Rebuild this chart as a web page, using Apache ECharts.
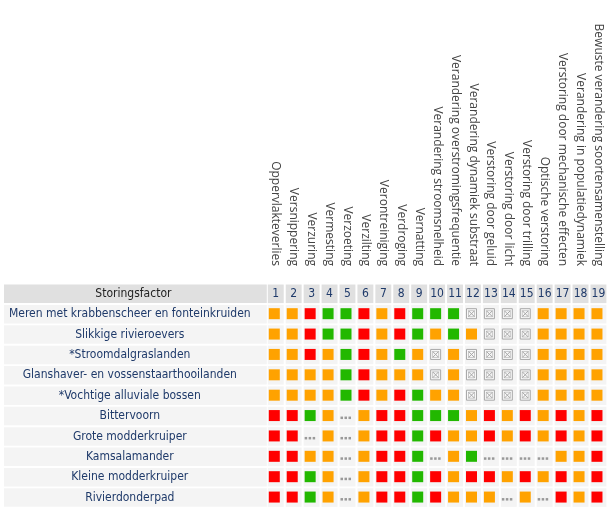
<!DOCTYPE html>
<html>
<head>
<meta charset="utf-8">
<script src="https://cdn.jsdelivr.net/npm/echarts@6/dist/echarts.min.js"></script>
<style>
  html, body { margin: 0; padding: 0; background: #fff; }
  #main { width: 611px; height: 512px; }
</style>
</head>
<body>
<div id="main"></div>
<script>
// storingsfactoren (kolommen)
var factoren = [
  'Oppervlakteverlies', 'Versnippering', 'Verzuring', 'Vermesting', 'Verzoeting',
  'Verzilting', 'Verontreiniging', 'Verdroging', 'Vernatting', 'Verandering stroomsnelheid',
  'Verandering overstromingsfrequentie', 'Verandering dynamiek substraat', 'Verstoring door geluid',
  'Verstoring door licht', 'Verstoring door trilling', 'Optische verstoring',
  'Verstoring door mechanische effecten', 'Verandering in populatiedynamiek',
  'Bewuste verandering soortensamenstelling'
]
var nummers = ['1','2','3','4','5','6','7','8','9','10','11','12','13','14','15','16','17','18','19']

// habitattypen en soorten (rijen)
var rijen = [
  'Meren met krabbenscheer en fonteinkruiden', 'Slikkige rivieroevers', '*Stroomdalgraslanden',
  'Glanshaver- en vossenstaarthooilanden', '*Vochtige alluviale bossen', 'Bittervoorn',
  'Grote modderkruiper', 'Kamsalamander', 'Kleine modderkruiper', 'Rivierdonderpad'
]

// o = oranje, r = rood, g = groen, x = niet van toepassing, d = nog niet bekend
var rij1  = ['o','o','r','g','g','r','o','r','g','g','g','x','x','x','x','o','o','o','o']
var rij2  = ['o','o','r','g','g','r','o','r','g','o','g','o','x','x','x','o','o','o','o']
var rij3  = ['o','o','r','o','g','r','o','g','o','x','o','x','x','x','x','o','o','o','o']
var rij4  = ['o','o','o','o','g','r','o','o','o','x','o','x','x','x','x','o','o','o','o']
var rij5  = ['o','o','o','o','g','r','o','r','g','o','o','x','x','x','x','o','o','o','o']
var rij6  = ['r','r','g','o','d','o','r','r','g','g','g','o','r','o','r','o','r','o','r']
var rij7  = ['r','r','d','o','d','o','r','r','g','r','o','o','r','o','r','o','r','o','r']
var rij8  = ['r','r','o','o','d','o','r','r','g','d','o','g','d','d','d','d','o','o','r']
var rij9  = ['r','r','g','o','d','o','r','r','g','r','o','r','r','o','r','o','r','o','r']
var rij10 = ['r','r','g','o','d','o','r','r','g','r','o','o','o','d','o','d','r','o','r']
var matrix = [rij1, rij2, rij3, rij4, rij5, rij6, rij7, rij8, rij9, rij10]

var kleuren = { o: '#ffa200', r: '#ff0000', g: '#22b800' }
var navy = '#1f3a6a'
var font = '12px "DejaVu Sans Condensed"'

var cellData = []
matrix.forEach(function (rij, r) {
  rij.forEach(function (s, c) { cellData.push([c, r, s]) })
})

function cellBox(api, c, r) {
  var p = api.coord([c, r])
  var s = api.size([1, 1])
  var w = s[0] - 2, h = s[1] - 1.8
  return { cx: p[0], cy: p[1], x: p[0] - w / 2, y: p[1] - h / 2, w: w, h: h, step: s[1] }
}

function renderCell(params, api) {
  var b = cellBox(api, api.value(0), api.value(1))
  var s = matrix[api.value(1)][api.value(0)]
  var kids = [{ type: 'rect', shape: { x: b.x, y: b.y, width: b.w, height: b.h }, style: { fill: '#f4f4f4' } }]
  var sx = b.x + 1, sy = b.cy - 6
  if (kleuren[s]) {
    kids.push({ type: 'rect', shape: { x: sx, y: sy, width: 11, height: 11 }, style: { fill: kleuren[s] } })
  } else if (s === 'x') {
    kids.push({ type: 'rect', shape: { x: sx + 0.5, y: sy + 0.5, width: 10, height: 10 }, style: { fill: '#f8f8f8', stroke: '#a8a8a8', lineWidth: 1 } })
    kids.push({ type: 'rect', shape: { x: sx + 2.5, y: sy + 2.5, width: 6, height: 6 }, style: { fill: 'none', stroke: '#c8c8c8', lineWidth: 1 } })
    kids.push({ type: 'line', shape: { x1: sx + 2.5, y1: sy + 2.5, x2: sx + 8.5, y2: sy + 8.5 }, style: { stroke: '#a8a8a8', lineWidth: 1 } })
    kids.push({ type: 'line', shape: { x1: sx + 8.5, y1: sy + 2.5, x2: sx + 2.5, y2: sy + 8.5 }, style: { stroke: '#a8a8a8', lineWidth: 1 } })
  } else if (s === 'd') {
    for (var i = 0; i < 3; i++) {
      kids.push({ type: 'rect', shape: { x: sx + i * 4, y: b.cy + 0.5, width: 2.5, height: 2.5 }, style: { fill: '#999' } })
    }
  }
  return { type: 'group', children: kids }
}

// kop met nummers
function renderHeader(params, api) {
  var c = api.value(0)
  var b = cellBox(api, c, 0)
  var y = b.y - b.step
  var kids = [
    { type: 'rect', shape: { x: b.x, y: y, width: b.w, height: b.h }, style: { fill: '#e0e0e0' } },
    { type: 'text', style: { x: b.cx, y: y + b.h / 2 + 0.5, text: nummers[c], fill: navy, font: font, align: 'center', verticalAlign: 'middle' } }
  ]
  return { type: 'group', children: kids }
}

// achtergrond van de rijlabels + kopcel Storingsfactor
function renderRowBg(params, api) {
  var r = api.value(1)
  var b = cellBox(api, 0, r)
  var left = 4, right = b.x - 1
  var kids = [{ type: 'rect', shape: { x: left, y: b.y, width: right - left, height: b.h }, style: { fill: '#f4f4f4' } }]
  if (r === 0) {
    var y = b.y - b.step
    kids.push({ type: 'rect', shape: { x: left, y: y, width: right - left, height: b.h }, style: { fill: '#e0e0e0' } })
    kids.push({ type: 'text', style: { x: (left + right) / 2 - 2, y: y + b.h / 2 + 0.5, text: 'Storingsfactor', fill: '#222', font: font, align: 'center', verticalAlign: 'middle' } })
  }
  return { type: 'group', children: kids }
}

var chart = echarts.init(document.getElementById('main'))
chart.setOption({
  animation: false,
  grid: { left: 266.8, right: 3.6, top: 304, bottom: 4.25 },
  xAxis: {
    type: 'category', position: 'top', data: factoren, z: 10,
    axisLine: { show: false }, axisTick: { show: false },
    axisLabel: { interval: 0, rotate: 90, margin: 38, color: '#444', fontSize: 12, fontFamily: 'Open Sans' }
  },
  yAxis: {
    type: 'category', inverse: true, data: rijen, z: 10,
    axisLine: { show: false }, axisTick: { show: false },
    axisLabel: { align: 'center', margin: 137, color: navy, fontSize: 12, fontFamily: 'DejaVu Sans Condensed' }
  },
  series: [
    { type: 'custom', name: 'rijen', renderItem: renderRowBg, data: rijen.map(function (n, i) { return [0, i] }), z: 1 },
    { type: 'custom', name: 'kop', renderItem: renderHeader, data: nummers.map(function (n, i) { return [i, 0] }), z: 1 },
    { type: 'custom', name: 'cellen', renderItem: renderCell, data: cellData, z: 2 }
  ]
})
</script>
</body>
</html>
